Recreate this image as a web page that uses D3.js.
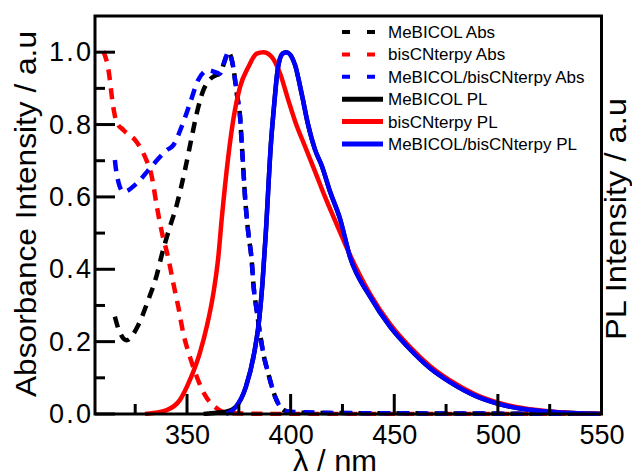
<!DOCTYPE html>
<html><head><meta charset="utf-8">
<script src="https://cdn.jsdelivr.net/npm/d3@7"></script>
<style>
body{margin:0;background:#fff;}
svg{display:block;font-family:"Liberation Sans",Arial,sans-serif;}
</style></head>
<body><svg id="c" width="632" height="476"></svg>
<script>
// ---- data (wavelength nm, normalized intensity) ----
const meAbsX = [315.2,316.8,320.9,326.5,331.3,335.4,337.8,341,345,349,352.3,354.7,357.9,360.3,363.5,366,368.3,369.9,372.3,374,375.6,376.4,377.2,378,379.6,381.2,382,383.6,385.2,386.8,389.2,392.5,396.5,400,410,450,500,550];
const meAbsY = [0.269,0.237,0.204,0.246,0.315,0.384,0.439,0.504,0.577,0.674,0.766,0.831,0.895,0.92,0.935,0.941,0.978,1.0,0.959,0.886,0.821,0.748,0.674,0.6,0.499,0.425,0.361,0.287,0.223,0.168,0.112,0.048,0.011,0.005,0.003,0.002,0.001,0];
const bisAbsX = [309.6,312,314.4,316,319.3,325.7,329.7,333,335.4,337.8,341,343.4,345.8,348.2,351.4,354.7,358.7,364.3,370.7,380,400,450,500,550];
const bisAbsY = [1.003,0.955,0.849,0.807,0.785,0.752,0.711,0.656,0.575,0.504,0.43,0.361,0.296,0.223,0.158,0.103,0.052,0.016,0.002,0.001,0.0,0.0,0.0,0.0];
const mixAbsX = [315.2,316,319.3,325.7,332.1,340.2,343.4,347.4,351.4,355.4,360.3,365.9,368.3,369.9,372.3,374,375.6,376.4,377.2,378,379.6,381.2,382,383.6,385.2,386.8,389.2,392.5,396.5,400,405,420,450,500,550];
const mixAbsY = [0.702,0.665,0.614,0.637,0.679,0.729,0.743,0.794,0.858,0.923,0.95,0.941,0.978,1.0,0.959,0.886,0.821,0.748,0.674,0.6,0.499,0.425,0.361,0.287,0.223,0.168,0.112,0.048,0.011,0.006,0.005,0.003,0.002,0.001,0];
const mePLX = [358,363,368.8,373.6,378.4,382.4,384.8,386.4,388,390.5,392.1,393.7,396.1,398,402.1,405.5,408.4,411.8,415.1,419,423.8,428.6,438.3,447.9,457.6,467.2,476.9,489.2,501,513.1,525.2,549.3];
const mePLY = [0,0.003,0.006,0.02,0.075,0.168,0.26,0.361,0.499,0.748,0.858,0.95,0.996,1.0,0.965,0.88,0.8,0.73,0.685,0.615,0.54,0.435,0.325,0.242,0.179,0.127,0.088,0.05,0.027,0.013,0.006,0.0];
const bisPLX = [329.7,340.2,346.6,351.4,356.2,359.5,362.7,365.1,366.7,369.9,372.3,375.6,379.6,383.6,386.8,390.9,394.9,398.9,402.1,406.9,411.8,416.6,421.4,428.6,438.3,447.9,457.6,467.2,476.9,489.2,501,513.1,525.2,549.3];
const bisPLY = [0,0.011,0.039,0.094,0.169,0.241,0.333,0.434,0.536,0.711,0.812,0.904,0.959,0.996,1.0,0.987,0.941,0.867,0.81,0.74,0.67,0.6,0.535,0.44,0.332,0.249,0.185,0.133,0.093,0.054,0.03,0.015,0.007,0.0];
const mixPLX = [368.8,373.6,378.4,382.4,384.8,386.4,388,390.5,392.1,393.7,396.1,398,402.1,405.5,408.4,411.8,415.1,419,423.8,428.6,438.3,447.9,457.6,467.2,476.9,489.2,501,513.1,525.2,549.3];
const mixPLY = [0,0.02,0.075,0.168,0.26,0.361,0.499,0.748,0.858,0.95,0.996,1.0,0.965,0.88,0.8,0.73,0.685,0.615,0.54,0.435,0.325,0.242,0.179,0.127,0.088,0.05,0.027,0.013,0.006,0.0];
const xTicks = [350,400,450,500,550];
const xMinor = [325,375,425,475,525];
const yTicks = [0.0,0.2,0.4,0.6,0.8,1.0];
const yMinor = [0.1,0.3,0.5,0.7,0.9];
const seriesNames = ["MeBICOL Abs","bisCNterpy Abs","MeBICOL/bisCNterpy Abs","MeBICOL PL","bisCNterpy PL","MeBICOL/bisCNterpy PL"];
const seriesColors = ["#000000","#ff0000","#0000ff","#000000","#ff0000","#0000ff"];
const seriesDashed = [true,true,true,false,false,false];

const series = [[meAbsX,meAbsY],[bisAbsX,bisAbsY],[mixAbsX,mixAbsY],[mePLX,mePLY],[bisPLX,bisPLY],[mixPLX,mixPLY]];

const L=95,R=601.5,T=16,B=414;
const svg=d3.select("#c");
const x=d3.scaleLinear().domain([305.6,550]).range([L,R]);
const y=d3.scaleLinear().domain([0,1.1]).range([B,T]);

svg.append("clipPath").attr("id","clip").append("rect").attr("x",L).attr("y",T).attr("width",R-L).attr("height",B-T+2);
const line=d3.line().x(d=>x(d[0])).y(d=>y(d[1])).curve(d3.curveMonotoneX);
const g=svg.append("g").attr("clip-path","url(#clip)");
series.forEach((s,i)=>{
  const pts=s[0].map((v,j)=>[v,s[1][j]]);
  g.append("path").attr("d",line(pts)).attr("fill","none")
   .attr("stroke",seriesColors[i]).attr("stroke-width",4.5)
   .attr("stroke-dasharray",seriesDashed[i]?"11,8":null);
});

// axes (labels via d3.axis, tick marks drawn inward)
const ax=svg.append("g").attr("transform",`translate(0,${B})`)
  .call(d3.axisBottom(x).tickValues(xTicks).tickSize(0).tickPadding(11).tickFormat(d3.format("d")));
const ay=svg.append("g").attr("transform",`translate(${L},0)`)
  .call(d3.axisLeft(y).tickValues(yTicks).tickSize(0).tickPadding(4).tickFormat(d3.format(".1f")));
[ax,ay].forEach(a=>{a.select(".domain").remove();a.selectAll("line").remove();
  a.selectAll("text").attr("font-size",27).attr("fill","#000").attr("font-family","Liberation Sans, Arial, sans-serif");});
ay.selectAll("text").attr("textLength",42).attr("lengthAdjust","spacing");

const tk=svg.append("g").attr("stroke","#000").attr("stroke-width",3);
xTicks.forEach(v=>tk.append("line").attr("x1",x(v)).attr("x2",x(v)).attr("y1",B).attr("y2",B-20));
xMinor.forEach(v=>tk.append("line").attr("x1",x(v)).attr("x2",x(v)).attr("y1",B).attr("y2",B-10));
yTicks.forEach(v=>tk.append("line").attr("x1",L).attr("x2",L+20).attr("y1",y(v)).attr("y2",y(v)));
yMinor.forEach(v=>tk.append("line").attr("x1",L).attr("x2",L+10).attr("y1",y(v)).attr("y2",y(v)));

svg.append("rect").attr("x",L).attr("y",T).attr("width",R-L).attr("height",B-T)
  .attr("fill","none").attr("stroke","#000").attr("stroke-width",3);

// titles
svg.append("text").attr("x",335).attr("y",471).attr("text-anchor","middle").attr("font-size",30)
  .attr("textLength",84).attr("lengthAdjust","spacingAndGlyphs").text("λ / nm");
svg.append("text").attr("transform",`translate(36,214) rotate(-90)`).attr("text-anchor","middle").attr("font-size",29)
  .attr("textLength",366).attr("lengthAdjust","spacingAndGlyphs").text("Absorbance Intensity / a.u");
svg.append("text").attr("transform",`translate(626,219) rotate(-90)`).attr("text-anchor","middle").attr("font-size",29)
  .attr("textLength",242).attr("lengthAdjust","spacingAndGlyphs").text("PL Intensity / a.u");

// legend
const lg=svg.append("g");
seriesNames.forEach((n,i)=>{
  const yy=32+i*22.4;
  lg.append("line").attr("x1",342).attr("x2",383).attr("y1",yy).attr("y2",yy)
   .attr("stroke",seriesColors[i]).attr("stroke-width",seriesDashed[i]?4:5)
   .attr("stroke-dasharray",seriesDashed[i]?"8,17":null);
  lg.append("text").attr("x",388).attr("y",yy).attr("dy","0.35em").attr("font-size",17).text(n);
});
</script></body></html>
